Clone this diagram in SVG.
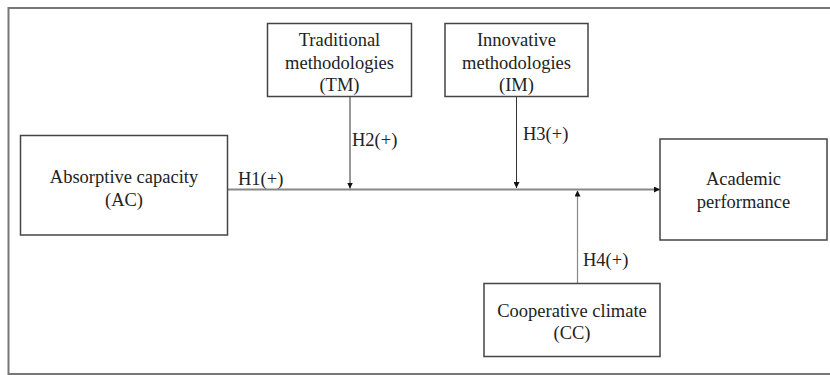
<svg xmlns="http://www.w3.org/2000/svg" width="830" height="375" viewBox="0 0 830 375">
<style>
  .box { fill: #fff; stroke: #444; stroke-width: 1.5; }
  .t { font-family: "Liberation Serif", "Times New Roman", serif; font-size: 18.5px; fill: #222; text-anchor: middle; }
  .lbl { font-family: "Liberation Serif", "Times New Roman", serif; font-size: 18.5px; fill: #222; }
  .main { stroke: #888; stroke-width: 2; fill: none; }
  .mod { stroke: #333; stroke-width: 1; fill: none; }
  .mod2 { stroke: #888; stroke-width: 1.2; fill: none; }
</style>
<defs>
  <marker id="ah" viewBox="0 0 10 10" refX="10" refY="5" markerWidth="6" markerHeight="6" markerUnits="userSpaceOnUse" orient="auto">
    <path d="M0,0 L10,5 L0,10 Z" fill="#111"/>
  </marker>
</defs>
<rect width="830" height="375" fill="#fff"/>
<path d="M8.5,380 V8 H840 M8.5,374 H840" stroke="#777" stroke-width="2" fill="none"/>

<g id="connectors">
  <line class="main" x1="227" y1="189.5" x2="660" y2="189.5" marker-end="url(#ah)"/>
  <line class="mod" x1="350" y1="97" x2="350" y2="188.5" marker-end="url(#ah)"/>
  <line class="mod" x1="516.5" y1="97" x2="516.5" y2="188" marker-end="url(#ah)"/>
  <line class="mod2" x1="577.5" y1="283.5" x2="577.5" y2="190.5" marker-end="url(#ah)"/>
  <text class="lbl" x="238" y="185">H1(+)</text>
  <text class="lbl" x="352" y="146">H2(+)</text>
  <text class="lbl" x="523" y="140">H3(+)</text>
  <text class="lbl" x="583" y="266">H4(+)</text>
</g>

<g id="ac">
  <rect class="box" x="20.5" y="135.5" width="207" height="99.5"/>
  <text class="t" x="124" y="183">Absorptive capacity</text>
  <text class="t" x="124" y="205.5">(AC)</text>
</g>
<g id="tm">
  <rect class="box" x="267.5" y="23.5" width="144" height="73"/>
  <text class="t" x="339.5" y="46">Traditional</text>
  <text class="t" x="339.5" y="68.5">methodologies</text>
  <text class="t" x="339.5" y="91">(TM)</text>
</g>
<g id="im">
  <rect class="box" x="445" y="23.5" width="143" height="73"/>
  <text class="t" x="516.5" y="46">Innovative</text>
  <text class="t" x="516.5" y="68.5">methodologies</text>
  <text class="t" x="516.5" y="91">(IM)</text>
</g>
<g id="ap">
  <rect class="box" x="660" y="139" width="167" height="101"/>
  <text class="t" x="743.5" y="185">Academic</text>
  <text class="t" x="743.5" y="207.5">performance</text>
</g>
<g id="cc">
  <rect class="box" x="484" y="283.5" width="176" height="73"/>
  <text class="t" x="572" y="317">Cooperative climate</text>
  <text class="t" x="572" y="339">(CC)</text>
</g>
</svg>
